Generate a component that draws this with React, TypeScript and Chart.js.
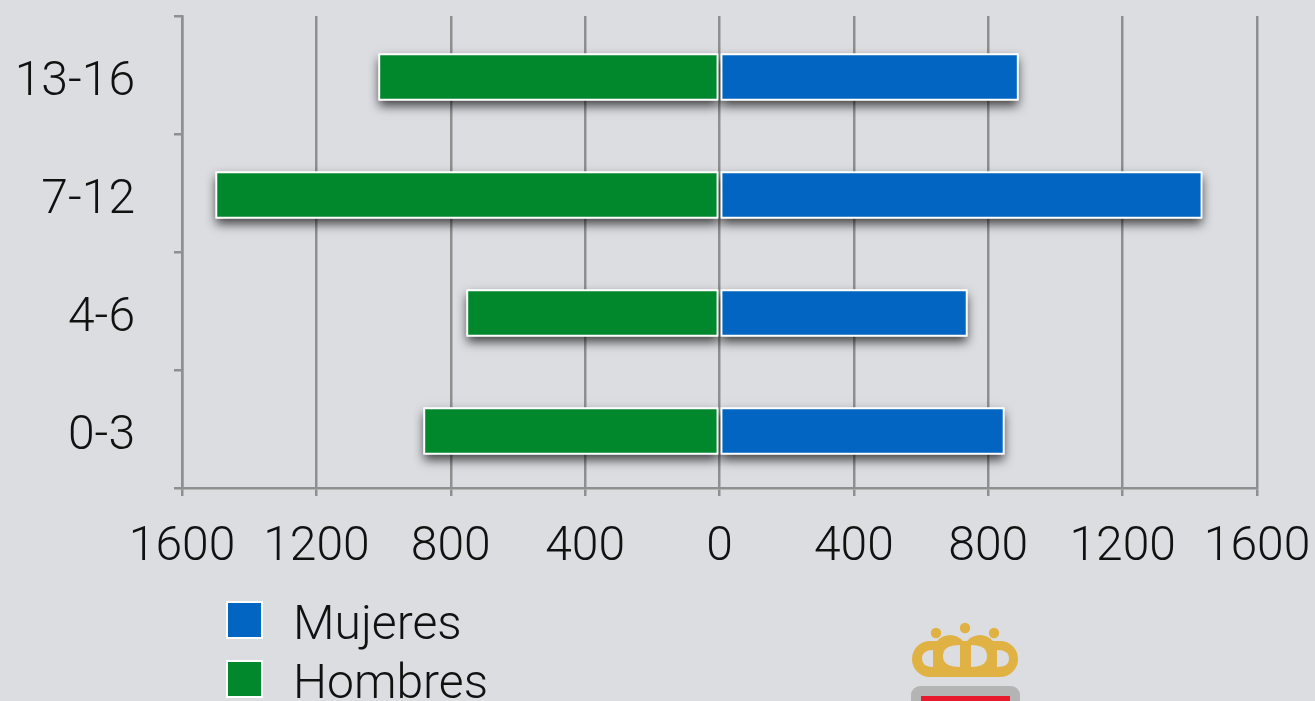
import React, { useEffect, useRef } from "react";
import { Chart, registerables } from "chart.js";

Chart.register(...registerables);

const categories = ["13-16", "7-12", "4-6", "0-3"];
const mujeres = [890, 1437, 738, 848];
const hombres = [-1015, -1500, -753, -881];
const seriesNames = ["Mujeres", "Hombres"];
const seriesColors = ["#0265C2", "#02882C"];
const FONT = "Roboto, 'Liberation Sans', sans-serif";

const barShadow = {
  id: "barShadow",
  beforeDatasetsDraw(chart: any) {
    const ctx = chart.ctx;
    ctx.save();
    ctx.translate(0, 2);
    ctx.save();
    ctx.shadowColor = "rgba(0,0,0,0.7)";
    ctx.shadowBlur = 10;
    ctx.shadowOffsetX = 0;
    ctx.shadowOffsetY = 5;
    ctx.fillStyle = "#ffffff";
    chart.data.datasets.forEach((_: any, i: number) => {
      chart.getDatasetMeta(i).data.forEach((bar: any) => {
        const p = bar.getProps(["x", "y", "base", "height"], true);
        ctx.fillRect(Math.min(p.x, p.base), p.y - p.height / 2, Math.abs(p.x - p.base), p.height);
      });
    });
    ctx.restore();
  },
  afterDatasetsDraw(chart: any) {
    chart.ctx.restore();
  },
};

const noPadding = (s: any) => {
  s.paddingTop = 0;
  s.paddingBottom = 0;
  s.paddingLeft = 0;
  s.paddingRight = 0;
};

const BG = "#DCDDE1";

function Crest() {
  return (
    <svg width={1315} height={701} style={{ position: "absolute", left: 0, top: 0, pointerEvents: "none" }}>
      <g fill="#E0B244">
        <circle cx={936} cy={633} r={5.2} />
        <circle cx={965} cy={628} r={5.2} />
        <circle cx={994} cy={633} r={5.2} />
        <rect x={912} y={641} width={106} height={36} rx={18} />
        <ellipse cx={950} cy={655} rx={18} ry={20} />
        <ellipse cx={980} cy={655} rx={18} ry={20} />
      </g>
      <g fill={BG}>
        <path d="M933 650 Q922 650 922 658.5 Q922 667 933 667 Z" />
        <path d="M960 645 Q943 645 943 656 Q943 667 960 667 Z" />
        <path d="M971 645 Q987 645 987 656 Q987 667 971 667 Z" />
        <path d="M997 650 Q1009 650 1009 658.5 Q1009 667 997 667 Z" />
      </g>
      <rect x={911} y={686} width={109} height={40} rx={9} fill="#B4B4B4" />
      <rect x={921} y={696} width={89} height={30} fill="#E8192C" />
    </svg>
  );
}

export default function App() {
  const ref = useRef<HTMLCanvasElement>(null);
  useEffect(() => {
    const chart = new Chart(ref.current as HTMLCanvasElement, {
      type: "bar",
      data: {
        labels: categories,
        datasets: [
          { label: seriesNames[0], data: mujeres, backgroundColor: seriesColors[0] },
          { label: seriesNames[1], data: hombres, backgroundColor: seriesColors[1] },
        ].map((d) => ({
          ...d,
          borderColor: "#ffffff",
          borderWidth: 2,
          borderSkipped: false,
          barThickness: 47,
        })),
      },
      options: {
        indexAxis: "y",
        responsive: false,
        animation: false,
        layout: { padding: { top: 16, right: 58, left: 0, bottom: 0 } },
        plugins: { legend: { display: false }, tooltip: { enabled: false } },
        scales: {
          x: {
            type: "linear",
            stacked: true,
            min: -1600,
            max: 1600,
            afterFit(s: any) {
              s.height = 213;
              noPadding(s);
            },
            ticks: {
              stepSize: 400,
              autoSkip: false,
              maxRotation: 0,
              padding: 23,
              color: "#111111",
              font: { family: FONT, size: 48, weight: "300" },
              callback: (v: any) => String(Math.abs(Number(v))),
            },
            grid: { color: "#8F8F8F", lineWidth: 2.5, tickLength: 8 },
            border: { color: "#8F8F8F", width: 2.5 },
          },
          y: {
            stacked: true,
            afterFit(s: any) {
              s.width = 182;
              noPadding(s);
            },
            ticks: {
              padding: 39,
              labelOffset: 8,
              color: "#111111",
              font: { family: FONT, size: 48, weight: "300" },
            },
            grid: { drawOnChartArea: false, color: "#8F8F8F", lineWidth: 2.5, tickLength: 8 },
            border: { color: "#8F8F8F", width: 2.5 },
          },
        },
      },
      plugins: [barShadow],
    } as any);
    return () => chart.destroy();
  }, []);

  return (
    <div style={{ position: "fixed", left: 0, top: 0, width: 1315, height: 701, background: BG, overflow: "hidden" }}>
      <canvas ref={ref} width={1315} height={701} style={{ position: "absolute", left: 0, top: 0, display: "block" }} />
      {seriesNames.map((name, i) => (
        <React.Fragment key={name}>
          <div
            style={{
              position: "absolute",
              left: 226,
              top: 601 + i * 59,
              width: 33,
              height: 34,
              background: seriesColors[i],
              border: "2px solid #ffffff",
            }}
          />
          <div
            style={{
              position: "absolute",
              left: 293,
              top: 593 + i * 59,
              fontFamily: FONT,
              fontWeight: 300,
              fontSize: 48,
              lineHeight: "60px",
              color: "#111111",
            }}
          >
            {name}
          </div>
        </React.Fragment>
      ))}
      <Crest />
    </div>
  );
}
